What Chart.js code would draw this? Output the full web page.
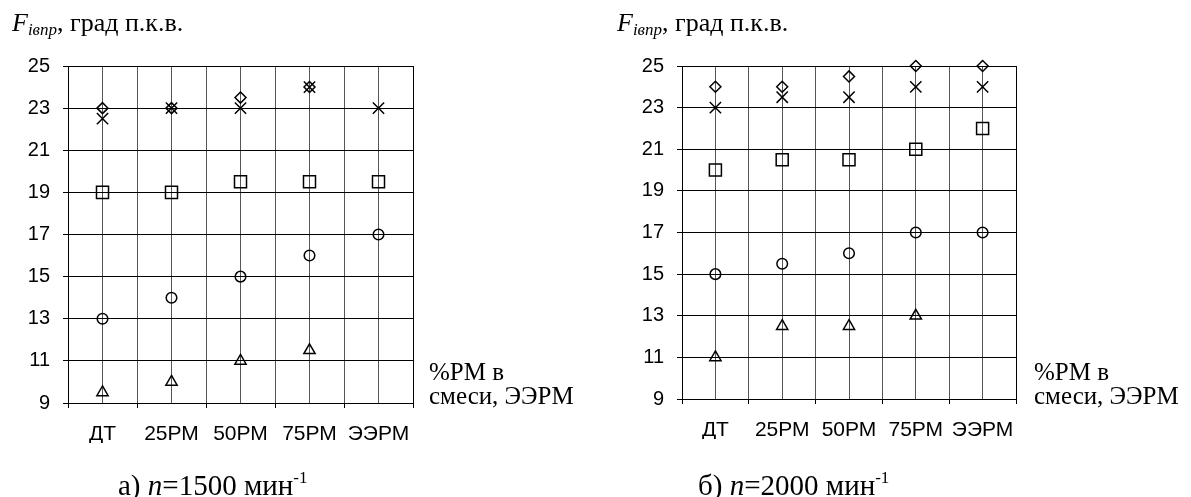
<!DOCTYPE html>
<html><head><meta charset="utf-8">
<script src="https://cdn.jsdelivr.net/npm/chart.js@4.4.1/dist/chart.umd.min.js"></script>
<style>
body{margin:0;background:#fff;width:1191px;height:497px;overflow:hidden;position:relative;font-family:"Liberation Serif","Times New Roman",serif;color:#000}
canvas{position:absolute;top:0}
.t{position:absolute;white-space:nowrap;line-height:1}
.title{font-size:26px}
.title sub{font-size:17px;vertical-align:-4px;line-height:1}
.side{font-size:25px;line-height:24px}
.cap{font-size:29px}
.cap sup{font-size:17px;vertical-align:12px;line-height:1}
</style></head><body>
<canvas id="c1" width="600" height="497" style="left:0"></canvas>
<canvas id="c2" width="577" height="497" style="left:614px"></canvas>
<div class="t title" style="left:12px;top:10px"><i>F</i><sub><i>iвпр</i></sub>, град п.к.в.</div>
<div class="t title" style="left:617px;top:10px"><i>F</i><sub><i>iвпр</i></sub>, град п.к.в.</div>
<div class="t side" style="left:429px;top:360px">%РМ в<br>смеси, ЭЭРМ</div>
<div class="t side" style="left:1034px;top:360px">%РМ в<br>смеси, ЭЭРМ</div>
<div class="t cap" style="left:118px;top:469px">а) <i>n</i>=1500 мин<sup>-1</sup></div>
<div class="t cap" style="left:698px;top:469px">б) <i>n</i>=2000 мин<sup>-1</sup></div>
<script>
const categories = ['ДТ', '25РМ', '50РМ', '75РМ', 'ЭЭРМ'];
const yMin = 9, yMax = 25, yStep = 2;

// n = 1500 min^-1
const diamond1500  = [23, 23, 23.5, 24, null];
const cross1500    = [22.5, 23, 23, 24, 23];
const square1500   = [19, 19, 19.5, 19.5, 19.5];
const circle1500   = [13, 14, 15, 16, 17];
const triangle1500 = [9.5, 10, 11, 11.5, null];

// n = 2000 min^-1
const diamond2000  = [24, 24, 24.5, 25, 25];
const cross2000    = [23, 23.5, 23.5, 24, 24];
const square2000   = [20, 20.5, 20.5, 21, 22];
const circle2000   = [15, 15.5, 16, 17, 17];
const triangle2000 = [11, 12.5, 12.5, 13, null];

const styles = [
  {pointStyle: 'rectRot', radius: 5.5},
  {pointStyle: 'crossRot', radius: 8},
  {pointStyle: 'rect', radius: 8.5},
  {pointStyle: 'circle', radius: 5.3},
  {pointStyle: 'triangle', radius: 6.5}
];

function toPoints(arr) {
  const pts = [];
  arr.forEach((v, i) => { if (v !== null) pts.push({x: i, y: v}); });
  return pts;
}

function makeChart(id, series, plotWidth, plotBottom) {
  const cv = document.getElementById(id);
  const leftW = 68, xH = 40;
  new Chart(cv, {
    type: 'scatter',
    data: {
      datasets: series.map((s, k) => ({
        data: toPoints(s),
        pointStyle: styles[k].pointStyle,
        pointRadius: styles[k].radius,
        pointHoverRadius: styles[k].radius,
        borderColor: '#000',
        backgroundColor: 'rgba(0,0,0,0)',
        pointBorderWidth: 1.5,
        borderWidth: 1.5,
        showLine: false,
        clip: false
      }))
    },
    options: {
      responsive: false,
      animation: false,
      devicePixelRatio: 1,
      layout: {padding: {top: 66, left: 0, right: cv.width - leftW - plotWidth, bottom: cv.height - plotBottom - xH}},
      plugins: {legend: {display: false}, tooltip: {enabled: false}},
      scales: {
        x: {
          type: 'linear',
          min: -0.5, max: categories.length - 0.5,
          afterFit: s => { s.height = xH; },
          afterBuildTicks: s => {
            const t = [];
            for (let i = 0; i <= categories.length * 2; i++) t.push({value: -0.5 + i * 0.5});
            s.ticks = t;
          },
          ticks: {
            autoSkip: false, maxRotation: 0, padding: 14,
            color: '#000',
            font: {family: 'Liberation Sans, Arial, sans-serif', size: 21},
            callback: v => Number.isInteger(v) ? categories[v] : ''
          },
          grid: {
            color: c => (c.tick && (c.tick.value === -0.5 || c.tick.value === categories.length - 0.5)) ? '#000' : '#555',
            tickColor: c => (c.tick && Number.isInteger(c.tick.value)) ? 'rgba(0,0,0,0)' : '#000',
            lineWidth: 1, tickLength: 5
          },
          border: {color: '#000', width: 1}
        },
        y: {
          min: yMin, max: yMax,
          afterFit: s => { s.width = leftW; },
          ticks: {
            stepSize: yStep, padding: 13, color: '#000',
            font: {family: 'Liberation Sans, Arial, sans-serif', size: 20}
          },
          grid: {color: '#000', lineWidth: 1, tickLength: 5, tickColor: '#000'},
          border: {color: '#000', width: 1}
        }
      }
    }
  });
}

makeChart('c1', [diamond1500, cross1500, square1500, circle1500, triangle1500], 345, 403);
makeChart('c2', [diamond2000, cross2000, square2000, circle2000, triangle2000], 334, 399);
</script>
</body></html>
